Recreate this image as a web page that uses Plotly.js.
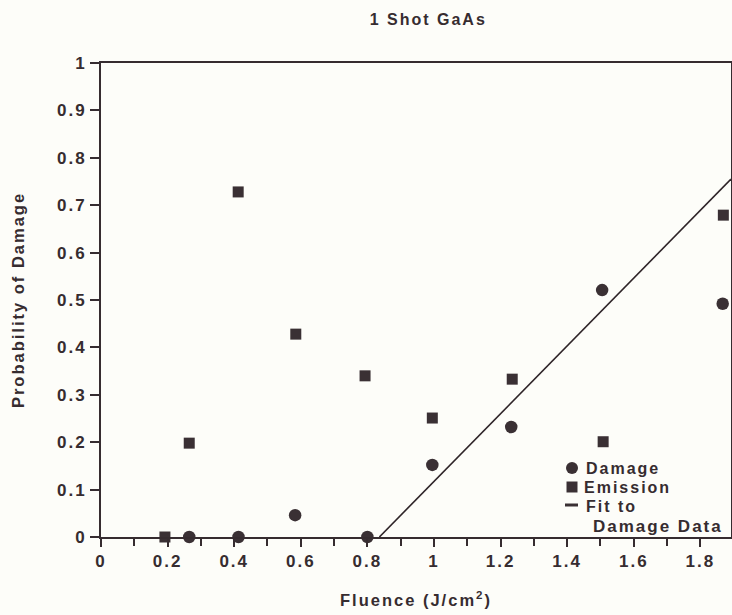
<!DOCTYPE html>
<html>
<head>
<meta charset="utf-8">
<script src="https://cdn.plot.ly/plotly-3.0.1.min.js"></script>
<style>
html,body{margin:0;padding:0;background:#fdfdf9;}
#chart text{letter-spacing:2px;}
</style>
</head>
<body>
<div id="chart" style="width:732px;height:615px;"></div>
<script>
// Damage data (circles)
const damageFluence = [0.265, 0.413, 0.583, 0.80, 0.995, 1.232, 1.505, 1.867];
const damageProb    = [0.0,   0.0,   0.046, 0.0,  0.152, 0.232, 0.521, 0.492];
// Emission data (squares)
const emissionFluence = [0.192, 0.265, 0.412, 0.585, 0.793, 0.995, 1.235, 1.508, 1.869];
const emissionProb    = [0.0,   0.198, 0.728, 0.428, 0.340, 0.251, 0.333, 0.201, 0.679];
// Linear fit to damage data
const fitFluence = [0.836, 1.892];
const fitProb    = [0.0,   0.755];
// Legend labels
const legendLabels = ['Damage', 'Emission', 'Fit to', 'Damage Data'];

const ink = '#362c30';
const markColor = '#3a3034';
const fontFam = '"Liberation Sans", Arial, Helvetica, sans-serif';
const f = (size) => ({family: fontFam, size: size, color: ink, weight: 'bold'});

const traces = [
  {x: damageFluence, y: damageProb, type: 'scatter', mode: 'markers', name: 'Damage',
   marker: {symbol: 'circle', size: 12.5, color: markColor}, cliponaxis: false},
  {x: emissionFluence, y: emissionProb, type: 'scatter', mode: 'markers', name: 'Emission',
   marker: {symbol: 'square', size: 11, color: markColor}, cliponaxis: false},
  {x: fitFluence, y: fitProb, type: 'scatter', mode: 'lines', name: 'Fit to Damage Data',
   line: {color: '#2e2428', width: 1.6}}
];

// Plot-area pixel helpers for the hand-made legend (plot area: x 101..731, y 63..537)
const PX = (px) => (px - 101) / 630;
const PY = (py) => (537 - py) / 474;

const legendShapes = [
  {type: 'circle', xref: 'paper', yref: 'paper', x0: PX(566), x1: PX(578), y0: PY(474), y1: PY(462),
   fillcolor: markColor, line: {width: 0}},
  {type: 'rect', xref: 'paper', yref: 'paper', x0: PX(566.5), x1: PX(577.5), y0: PY(492.5), y1: PY(481.5),
   fillcolor: markColor, line: {width: 0}},
  {type: 'line', xref: 'paper', yref: 'paper', x0: PX(565), x1: PX(578), y0: PY(505), y1: PY(505),
   line: {color: markColor, width: 3}}
];
const legendPos = [[590, 468], [590, 487], [590, 506], [602, 526]];
const legendSize = [16, 16, 16, 17];
const legendAnns = legendLabels.map((t, i) => ({
  text: t, xref: 'paper', yref: 'paper', x: PX(legendPos[i][0]), y: PY(legendPos[i][1]),
  xanchor: 'left', yanchor: 'middle', showarrow: false, font: f(legendSize[i])
}));

const layout = {
  width: 732, height: 615,
  paper_bgcolor: '#fdfdf9', plot_bgcolor: '#fdfdf9',
  margin: {l: 101, r: 1, t: 63, b: 78},
  font: f(16),
  title: {text: '1 Shot GaAs', font: f(16),
          xref: 'container', x: 0.585, xanchor: 'center', yref: 'container', y: 0.969, yanchor: 'middle'},
  showlegend: false,
  shapes: legendShapes,
  annotations: legendAnns,
  xaxis: {
    range: [0, 1.892], dtick: 0.2, tick0: 0, ticks: 'outside', ticklen: 8, tickwidth: 2,
    tickcolor: ink, showline: true, linecolor: ink, linewidth: 2, mirror: true,
    showgrid: false, zeroline: false, automargin: false,
    tickfont: f(17),
    minor: {dtick: 0.1, ticks: 'outside', ticklen: 7, tickwidth: 2, tickcolor: ink, showgrid: false},
    title: {text: 'Fluence (J/cm<sup>2</sup>)', standoff: 24, font: f(16.5)}
  },
  yaxis: {
    range: [0, 1], dtick: 0.1, tick0: 0, ticks: 'outside', ticklen: 9, tickwidth: 2,
    tickcolor: ink, showline: true, linecolor: ink, linewidth: 2, mirror: true,
    showgrid: false, zeroline: false, automargin: false,
    tickfont: f(17),
    title: {text: 'Probability of Damage', standoff: 34, font: f(16.5)}
  }
};

Plotly.newPlot('chart', traces, layout, {displayModeBar: false, staticPlot: true});
</script>
</body>
</html>
